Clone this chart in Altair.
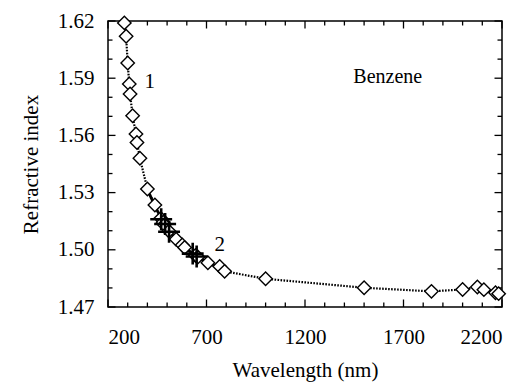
import altair as alt
import pandas as pd

# Series 1 (diamonds, dotted line)
lam1 = [283, 292, 300, 308, 312, 325, 342, 347, 362, 400, 438, 468, 480, 486, 509,
        546, 577, 589, 644, 656, 707, 767, 792, 1000, 1500, 1842, 2000, 2075, 2108, 2167, 2183]
n1 = [1.6190, 1.6120, 1.5980, 1.5870, 1.5817, 1.5703, 1.5607, 1.5563, 1.5480, 1.5319,
      1.5235, 1.5165, 1.5145, 1.5132, 1.5098, 1.5055, 1.5025, 1.5012, 1.4970, 1.4962,
      1.4932, 1.4913, 1.4887, 1.4848, 1.4801, 1.4782, 1.4792, 1.4805, 1.4791, 1.4775, 1.4770]

# Series 2 (crosses) and its solid fit line
lam2 = [470, 490, 510, 630, 650]
n2 = [1.5160, 1.5135, 1.5095, 1.4980, 1.4965]
lamfit = [395, 450, 500, 550, 600, 650, 700, 750, 800]
nfit = [1.5325, 1.5205, 1.5110, 1.5050, 1.5003, 1.4966, 1.4936, 1.4912, 1.4890]

# Tick values
x_major = [200, 700, 1200, 1700, 2200]
x_minor = [v for v in range(300, 2200, 100) if v not in x_major]
y_major = [1.47, 1.50, 1.53, 1.56, 1.59, 1.62]
y_minor = [1.48, 1.49, 1.51, 1.52, 1.54, 1.55, 1.57, 1.58, 1.60, 1.61]

# Annotations
ann_x = [412, 767, 1620]
ann_y = [1.5882, 1.5026, 1.5906]
ann_t = ["1", "2", "Benzene"]
ann_s = [21, 21, 20]

W, H = 394, 286
FONT = "'Liberation Serif', 'Times New Roman', 'DejaVu Serif', serif"

xs = alt.Scale(domain=[200, 2200], nice=False, zero=False)
ys = alt.Scale(domain=[1.47, 1.62], nice=False, zero=False)

xaxis = alt.Axis(values=x_major, format="d", title="Wavelength (nm)", ticks=False, domain=False,
                 grid=False, labelPadding=19, titlePadding=12,
                 labelFont=FONT, titleFont=FONT)
yaxis = alt.Axis(values=y_major, format=".2f", title="Refractive index", ticks=False, domain=False,
                 grid=False, labelPadding=14, titlePadding=16,
                 labelFont=FONT, titleFont=FONT)


def X(f):
    return alt.X(f, scale=xs, axis=xaxis)


def Y(f):
    return alt.Y(f, scale=ys, axis=yaxis)


d1 = pd.DataFrame({"lam": lam1, "n": n1})
d2 = pd.DataFrame({"lam": lam2, "n": n2})
dfit = pd.DataFrame({"lam": lamfit, "n": nfit})

line1 = alt.Chart(d1).mark_line(color="black", strokeWidth=2.2, strokeDash=[1.6, 1.4]).encode(
    x=X("lam:Q"), y=Y("n:Q"))
pts1 = alt.Chart(d1).mark_point(shape="diamond", filled=True, fill="white", stroke="black",
                                strokeWidth=1.4, size=180, opacity=1).encode(
    x=X("lam:Q"), y=Y("n:Q"))
fit = alt.Chart(dfit).mark_line(color="black", strokeWidth=2.8).encode(
    x=X("lam:Q"), y=Y("n:Q"))
pts2 = alt.Chart(d2).mark_point(shape="M-1,0L1,0M0,-1L0,1", filled=False, stroke="black",
                                strokeWidth=2.6, size=480, opacity=1).encode(
    x=X("lam:Q"), y=Y("n:Q"))


def xt(vals, L):
    df = pd.DataFrame({"v": vals})
    b = alt.Chart(df).mark_rule(color="black", strokeWidth=1.3).encode(
        x=X("v:Q"), y=alt.value(H), y2=alt.value(H - L))
    t = alt.Chart(df).mark_rule(color="black", strokeWidth=1.3).encode(
        x=X("v:Q"), y=alt.value(0), y2=alt.value(L))
    return b + t


def yt(vals, L):
    df = pd.DataFrame({"v": vals})
    l = alt.Chart(df).mark_rule(color="black", strokeWidth=1.3).encode(
        y=Y("v:Q"), x=alt.value(0), x2=alt.value(L))
    r = alt.Chart(df).mark_rule(color="black", strokeWidth=1.3).encode(
        y=Y("v:Q"), x=alt.value(W), x2=alt.value(W - L))
    return l + r


dann = pd.DataFrame({"x": ann_x, "y": ann_y, "t": ann_t, "s": ann_s})
ann = alt.Chart(dann).mark_text(font=FONT, color="black", align="center", baseline="middle").encode(
    x=X("x:Q"), y=Y("y:Q"), text="t:N",
    size=alt.Size("s:Q", scale=None, legend=None))

chart = alt.layer(
    xt(x_major, 7.5), xt(x_minor, 4.5), yt(y_major, 7.5), yt(y_minor, 4.5),
    line1, fit, pts1, pts2, ann
).properties(
    width=W, height=H,
    padding={"left": 108, "top": 21, "right": 25, "bottom": 84},
    autosize=alt.AutoSizeParams(type="none"),
    background="white",
).configure_view(
    stroke="black", strokeWidth=1.5
).configure_axis(
    labelFont=FONT, labelFontSize=21, labelColor="black",
    titleFont=FONT, titleFontSize=21, titleFontWeight="normal", titleColor="black",
).configure_text(font=FONT)

chart.save("out.html", embed_options={"renderer": "svg", "actions": False})
